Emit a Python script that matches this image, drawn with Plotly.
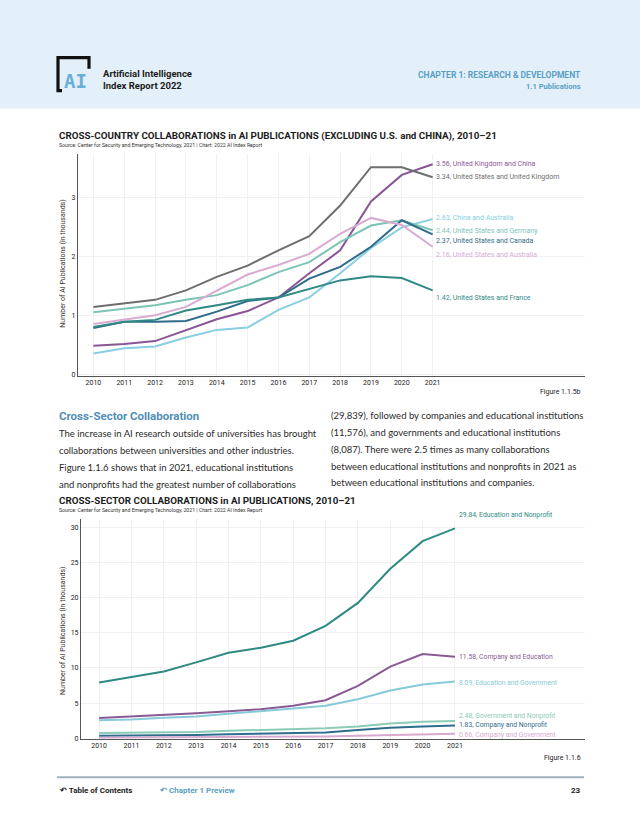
import plotly.graph_objects as go

W, H = 640, 828

# ---------------- data ----------------
years = list(range(2010, 2022))
year_ticks = [str(y) for y in years]

country_names = [
    "United Kingdom and China",
    "United States and United Kingdom",
    "China and Australia",
    "United States and Germany",
    "United States and Canada",
    "United States and Australia",
    "United States and France",
]
uk_china = [0.48, 0.51, 0.56, 0.75, 0.93, 1.07, 1.30, 1.71, 2.10, 2.93, 3.38, 3.56]
us_uk = [1.14, 1.20, 1.26, 1.42, 1.65, 1.84, 2.10, 2.34, 2.86, 3.51, 3.51, 3.34]
china_aus = [0.35, 0.44, 0.47, 0.62, 0.75, 0.79, 1.09, 1.30, 1.71, 2.14, 2.49, 2.63]
us_germany = [1.05, 1.11, 1.17, 1.26, 1.34, 1.51, 1.73, 1.90, 2.24, 2.52, 2.61, 2.44]
us_canada = [0.78, 0.89, 0.89, 0.90, 1.06, 1.24, 1.30, 1.62, 1.82, 2.16, 2.61, 2.37]
us_aus = [0.85, 0.92, 1.00, 1.14, 1.42, 1.69, 1.85, 2.04, 2.38, 2.65, 2.53, 2.16]
us_france = [0.80, 0.89, 0.92, 1.08, 1.17, 1.26, 1.30, 1.45, 1.59, 1.66, 1.63, 1.42]
country_values = [uk_china, us_uk, china_aus, us_germany, us_canada, us_aus, us_france]
country_ticks = [0, 1, 2, 3]

sector_names = [
    "Education and Nonprofit",
    "Company and Education",
    "Education and Government",
    "Government and Nonprofit",
    "Company and Nonprofit",
    "Company and Government",
]
edu_nonprofit = [7.95, 8.70, 9.50, 10.80, 12.17, 12.88, 13.87, 15.99, 19.25, 24.10, 28.02, 29.84]
comp_edu = [2.90, 3.11, 3.40, 3.58, 3.87, 4.15, 4.62, 5.42, 7.45, 10.19, 11.98, 11.58]
edu_gov = [2.59, 2.69, 2.92, 3.11, 3.49, 3.82, 4.25, 4.62, 5.57, 6.79, 7.64, 8.09]
gov_nonprofit = [0.75, 0.78, 0.80, 0.90, 1.08, 1.18, 1.23, 1.42, 1.70, 2.12, 2.36, 2.48]
comp_nonprofit = [0.38, 0.40, 0.42, 0.48, 0.60, 0.65, 0.70, 0.85, 1.18, 1.50, 1.70, 1.83]
comp_gov = [0.10, 0.12, 0.13, 0.15, 0.18, 0.20, 0.23, 0.28, 0.36, 0.48, 0.58, 0.66]
sector_values = [edu_nonprofit, comp_edu, edu_gov, gov_nonprofit, comp_nonprofit, comp_gov]
sector_ticks = [0, 5, 10, 15, 20, 25, 30]

# ---------------- styles ----------------
country_colors = ["#8a5595", "#6e6e6e", "#87cfe1", "#7cc4b5", "#2f6b8a", "#d8abd3", "#2f8a85"]
country_label_shift = [0, 0, 1, -1, -7, -8, -8]
sector_colors = ["#2e8a83", "#8a5a94", "#87cad9", "#8ccbb5", "#2e6d8c", "#d9a9d1"]
sector_label_shift = [13, 0, -2, 5, 0, -1.5]

FONT = "Roboto"
BODY = "Lato"
DARK = "#1c1c1c"
BLUE = "#5a9fc4"


def px(x):
    return x / W


def py(y):
    return 1 - y / H


fig = go.Figure()

for name, vals, col in zip(country_names, country_values, country_colors):
    fig.add_trace(go.Scatter(x=years, y=vals, mode="lines", name=name,
                             line=dict(color=col, width=2), xaxis="x", yaxis="y",
                             showlegend=False, hoverinfo="skip"))

for name, vals, col in zip(sector_names, sector_values, sector_colors):
    fig.add_trace(go.Scatter(x=years, y=vals, mode="lines", name=name,
                             line=dict(color=col, width=2), xaxis="x2", yaxis="y2",
                             showlegend=False, hoverinfo="skip"))

ann = []

for name, vals, col, sh in zip(country_names, country_values, country_colors, country_label_shift):
    ann.append(dict(x=years[-1], y=vals[-1], xref="x", yref="y", text=f"{vals[-1]:.2f}, {name}",
                    showarrow=False, xanchor="left", yanchor="middle", xshift=1, yshift=sh,
                    font=dict(family=FONT, size=7, color=col)))

for name, vals, col, sh in zip(sector_names, sector_values, sector_colors, sector_label_shift):
    ann.append(dict(x=years[-1], y=vals[-1], xref="x2", yref="y2", text=f"{vals[-1]:.2f}, {name}",
                    showarrow=False, xanchor="left", yanchor="middle", xshift=2, yshift=sh,
                    font=dict(family=FONT, size=6.8, color=col)))


def text(x, y, s, size, color=DARK, family=FONT, xanchor="left", bold=False, angle=0):
    if bold:
        s = f"<b>{s}</b>"
    ann.append(dict(x=px(x), y=py(y), xref="paper", yref="paper", text=s, showarrow=False,
                    xanchor=xanchor, yanchor="middle", textangle=angle,
                    font=dict(family=family, size=size, color=color)))


# header
text(101, 74, "Artificial Intelligence", 9.5, bold=True)
text(101, 86, "Index Report 2022", 9.5, bold=True)
text(583, 75, "CHAPTER 1: RESEARCH &amp; DEVELOPMENT", 8.5, color=BLUE, xanchor="right", bold=True)
text(583, 87, "1.1 Publications", 7.5, color=BLUE, xanchor="right", bold=True)
ann.append(dict(x=px(75), y=py(81), xref="paper", yref="paper", text="<b>AI</b>", showarrow=False,
                xanchor="center", yanchor="middle",
                font=dict(family="DejaVu Sans Mono", size=19, color="#6aaed6")))

# chart 1 titles
text(57, 137, "CROSS-COUNTRY COLLABORATIONS in AI PUBLICATIONS (EXCLUDING U.S. and CHINA), 2010–21", 9.8, bold=True)
text(57, 146, "Source: Center for Security and Emerging Technology, 2021 | Chart: 2022 AI Index Report", 5.2, color="#333")
text(63, 265, "Number of AI Publications (in thousands)", 7, color="#333", xanchor="center", angle=-90)
text(583, 394, "Figure 1.1.5b", 7, color="#222", xanchor="right")

# body text
text(57, 418, "Cross-Sector Collaboration", 11.5, color="#4f8fb8", bold=True)
left_lines = [
    "The increase in AI research outside of universities has brought",
    "collaborations between universities and other industries.",
    "Figure 1.1.6 shows that in 2021, educational institutions",
    "and nonprofits had the greatest number of collaborations",
]
right_lines = [
    "(29,839), followed by companies and educational institutions",
    "(11,576), and governments and educational institutions",
    "(8,087). There were 2.5 times as many collaborations",
    "between educational institutions and nonprofits in 2021 as",
    "between educational institutions and companies.",
]
for i, s in enumerate(left_lines):
    text(57, 436 + 16.8 * i, s, 9.5, color="#2a2a2a", family=BODY)
for i, s in enumerate(right_lines):
    text(329, 418 + 16.8 * i, s, 9.5, color="#2a2a2a", family=BODY)

# chart 2 titles
text(57, 503, "CROSS-SECTOR COLLABORATIONS in AI PUBLICATIONS, 2010–21", 9.8, bold=True)
text(57, 512, "Source: Center for Security and Emerging Technology, 2021 | Chart: 2022 AI Index Report", 5.2, color="#333")
text(63, 634, "Number of AI Publications (in thousands)", 7, color="#333", xanchor="center", angle=-90)
text(583, 762, "Figure 1.1.6", 7, color="#222", xanchor="right")

# footer
text(57, 794, "↶ Table of Contents", 8, bold=True)
text(157, 794, "↶ Chapter 1 Preview", 8, color=BLUE, bold=True)
text(583, 794, "23", 8, xanchor="right", bold=True)

shapes = [
    dict(type="rect", xref="paper", yref="paper", x0=0, x1=1, y0=py(109), y1=1,
         fillcolor="#e3f0fa", line=dict(width=0), layer="below"),
    dict(type="path", xref="paper", yref="paper",
         path=f"M {px(62)} {py(91)} L {px(58)} {py(91)} L {px(58)} {py(58)} L {px(89)} {py(58)} L {px(89)} {py(69)}",
         line=dict(color="#111", width=3.2)),
    dict(type="line", xref="paper", yref="paper", x0=px(57), x1=px(584), y0=py(781), y1=py(781),
         line=dict(color="#9fb3bd", width=2)),
]

axis_common = dict(showline=True, linecolor="#555", linewidth=1.2, ticks="",
                   gridcolor="#f1f1f1", gridwidth=1, zeroline=False, showgrid=True,
                   tickfont=dict(family=FONT, size=7, color="#222"))

fig.update_layout(
    width=W, height=H, margin=dict(l=0, r=0, t=0, b=0),
    paper_bgcolor="white", plot_bgcolor="white",
    showlegend=False, hovermode=False,
    annotations=ann, shapes=shapes,
    xaxis=dict(domain=[px(78), px(585)], range=[2009.5, 2025.94], anchor="y",
               tickmode="array", tickvals=years, ticktext=year_ticks, **axis_common),
    yaxis=dict(domain=[py(377.7), py(155)], range=[-0.03, 3.73], anchor="x",
               tickmode="array", tickvals=country_ticks, **axis_common),
    xaxis2=dict(domain=[px(81), px(585)], range=[2009.44, 2025.02], anchor="y2",
                tickmode="array", tickvals=years, ticktext=year_ticks, **axis_common),
    yaxis2=dict(domain=[py(742.3), py(522)], range=[-0.05, 31.1], anchor="x2",
                tickmode="array", tickvals=sector_ticks, **axis_common),
)

fig.write_html("out.html", config={"displayModeBar": False},
               post_script="document.body.style.margin='0';document.body.style.overflow='hidden';")
